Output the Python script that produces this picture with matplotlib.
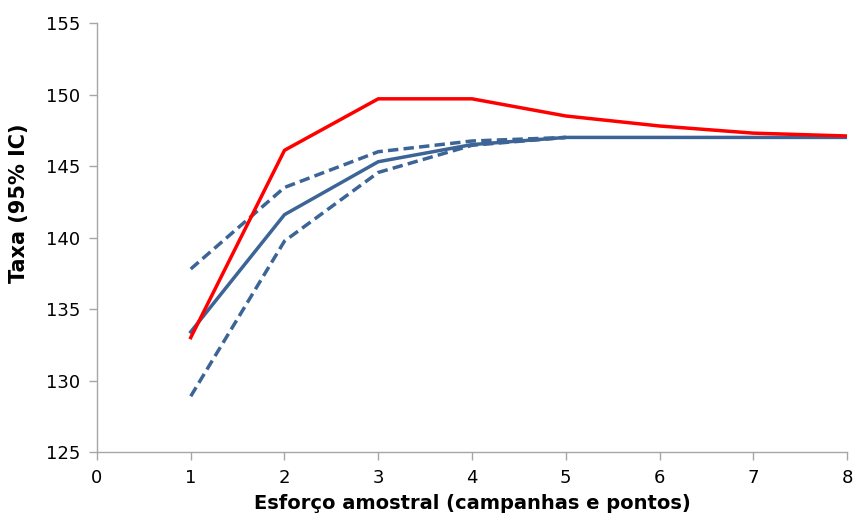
import numpy as np
import matplotlib.pyplot as plt

esforco = [1, 2, 3, 4, 5, 6, 7, 8]
observado = [133.0, 146.1, 149.7, 149.7, 148.5, 147.8, 147.3, 147.1]
estimado = [133.4, 141.6, 145.3, 146.5, 147.0, 147.0, 147.0, 147.0]
esforco_ic = [1, 2, 3, 4, 5]
ic_sup = [137.8, 143.5, 146.0, 146.75, 147.0]
ic_inf = [128.9, 139.75, 144.55, 146.45, 147.0]

azul = '#3C6496'
cinza = '#A6A6A6'

fig = plt.figure(figsize=(8.56, 5.14), dpi=100)
ax = fig.add_axes([0.1133, 0.1206, 0.8762, 0.8346])

ax.plot(esforco_ic, ic_sup, color=azul, lw=2.5, ls=(0, (3, 1.5)))
ax.plot(esforco_ic, ic_inf, color=azul, lw=2.5, ls=(0, (3, 1.5)))
ax.plot(esforco, estimado, color=azul, lw=2.5)
ax.plot(esforco, observado, color='#FF0000', lw=2.5)

ax.set_xlim(0, 8)
ax.set_ylim(125, 155)
ax.set_xticks(range(0, 9))
ax.set_yticks(range(125, 156, 5))

for s in ['top', 'right']:
    ax.spines[s].set_visible(False)
for s in ['left', 'bottom']:
    ax.spines[s].set_color(cinza)
    ax.spines[s].set_linewidth(1)
ax.tick_params(direction='out', length=6, width=1, color=cinza,
               labelsize=13, pad=6)

ax.set_xlabel('Esforço amostral (campanhas e pontos)', fontsize=14,
              fontweight='bold', labelpad=5)
ax.set_ylabel('Taxa (95% IC)', fontsize=15, fontweight='bold', labelpad=10)
ax.yaxis.set_label_coords(-0.09, 0.58)

fig.savefig('out.png', dpi=100)
